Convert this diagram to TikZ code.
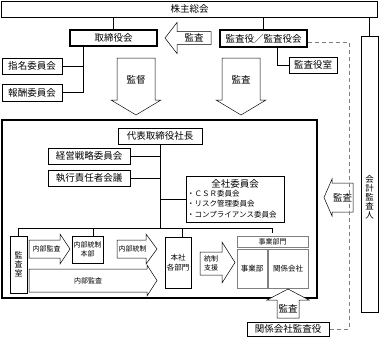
\documentclass[tikz,border=0pt]{standalone}
\usepackage{fontspec}
\setmainfont{Noto Sans CJK JP}
\newcommand{\fsA}{\fontsize{9.5}{11}\selectfont}
\newcommand{\fsB}{\fontsize{7.5}{10.5}\selectfont}
\newcommand{\fsC}{\fontsize{7}{9}\selectfont}
\begin{document}
\begin{tikzpicture}[x=1pt,y=-1pt,
  box/.style={draw, inner sep=0pt, align=center, line width=0.5pt},
  thickbox/.style={box, line width=1.3pt},
  graybox/.style={box, draw=black!50, line width=1pt},
  blockarrow/.style={draw, fill=white, line width=0.5pt, line join=miter},
  lbl/.style={inner sep=0pt, align=center},
  link/.style={line width=0.5pt}]
  \useasboundingbox (0,0) rectangle (379,340);
  % top level
  \node[box, minimum width=376pt, minimum height=16pt, font=\fsA] (agm) at (189.5,9) {株主総会};
  \node[thickbox, minimum width=87pt, minimum height=16pt, font=\fsA] (board) at (113.5,38) {取締役会};
  \node[thickbox, minimum width=87pt, minimum height=17pt, font=\fsA] (aud) at (263.5,38.5) {監査役／監査役会};
  \node[box, minimum width=60pt, minimum height=16pt, font=\fsA] (nom) at (32,66) {指名委員会};
  \node[box, minimum width=60pt, minimum height=17pt, font=\fsA] (rem) at (32,92.5) {報酬委員会};
  \node[box, minimum width=48pt, minimum height=16pt, font=\fsA] (audoff) at (313,65) {監査役室};
  \node[box, minimum width=17pt, minimum height=276pt] (acct) at (369.5,174) {};
  \node[lbl, font=\fontsize{8.5}{9}\selectfont] (acctlbl) at (369.5,197) {会\\計\\監\\査\\人};
  \draw[link] (agm.south -| board.north) -- (board.north);
  \draw[link] (agm.south -| aud.north) -- (aud.north);
  \draw[link] (agm.south -| acct.north) -- (acct.north);
  \coordinate (cj) at (83,92.5);
  \draw[link] (cj |- board.south) -- (cj) -- (rem.east);
  \draw[link] (cj |- nom.east) -- (nom.east);
  \coordinate (aj) at (277,65);
  \draw[link] (aj |- aud.south) -- (aj) -- (audoff.west);
  % block arrows between the levels
  \draw[blockarrow] (211,31.5) -- (177,31.5) -- (177,22.5) -- (165,38) -- (177,53.5) -- (177,44.5) -- (211,44.5) -- cycle;
  \node[lbl, font=\fsA] (audarrow) at (194,38) {監査};
  \draw[blockarrow] (117,58) -- (155,58) -- (155,100) -- (161,100) -- (136,115) -- (111,100) -- (117,100) -- cycle;
  \node[lbl, font=\fsA] (supv) at (136,80) {監督};
  \draw[blockarrow] (222,58) -- (260,58) -- (260,100) -- (266,100) -- (241,115) -- (216,100) -- (222,100) -- cycle;
  \node[lbl, font=\fsA] (audtwo) at (241,80) {監査};
  \draw[blockarrow] (353,183) -- (332,183) -- (332,179) -- (324,197.5) -- (332,216) -- (332,212) -- (353,212) -- cycle;
  \node[lbl, font=\fsA] (acctarrow) at (342.5,197.5) {監査};
  % executive side
  \node[box, line width=1.5pt, minimum width=315pt, minimum height=178pt] (exbox) at (159.5,209) {};
  \node[box, minimum width=84pt, minimum height=16pt, font=\fsA] (pres) at (160,136) {代表取締役社長};
  \node[box, minimum width=82pt, minimum height=16pt, font=\fsA] (strat) at (89,156) {経営戦略委員会};
  \node[box, minimum width=82pt, minimum height=16pt, font=\fsA] (exec) at (89,178) {執行責任者会議};
  \node[box, minimum width=98pt, minimum height=46pt] (zensha) at (235,199) {};
  \node[lbl, font=\fsA] (zenshattl) at (235,184) {全社委員会};
  \node[lbl, align=left, anchor=north west, font=\fsB] (zenshalist) at (187,190) {・ＣＳＲ委員会\\・リスク管理委員会\\・コンプライアンス委員会};
  \coordinate (bus) at (160,228);
  \draw[link] (pres.south) -- (pres.south |- bus);
  \draw[link] (strat.east) -- (strat.east -| pres.south);
  \draw[link] (exec.east) -- (exec.east -| pres.south);
  \draw[link] (zensha.west -| pres.south) -- (zensha.west);
  % lower row
  \node[box, minimum width=17pt, minimum height=57pt, font=\fontsize{8}{9}\selectfont] (kansa) at (18.5,264.5) {監\\査\\室};
  \node[box, minimum width=31pt, minimum height=27pt, font=\fsC] (naibu) at (87.5,249.5) {内部統制\\本部};
  \node[draw=black!55, double=white, double distance=1.6pt, line width=0.6pt, minimum width=153pt, minimum height=59pt] (group) at (235.5,262.5) {};
  \node[box, minimum width=26pt, minimum height=51pt, font=\fsB] (honsha) at (178,262.5) {本社\\各部門};
  \node[graybox, minimum width=71pt, minimum height=11pt, font=\fsC] (jmon) at (272.5,241.5) {事業部門};
  \node[graybox, minimum width=30pt, minimum height=39pt, font=\fsB] (jbu) at (252,268.5) {事業部};
  \node[graybox, minimum width=40pt, minimum height=39pt, font=\fsB] (kankei) at (288,268.5) {関係会社};
  \draw[link] (kansa.north) |- (jmon.north |- bus) -- (jmon.north |- group.north);
  \draw[link] ([xshift=5.5pt]naibu.north) -- ([xshift=5.5pt]naibu.north |- bus);
  \draw[link] ([xshift=4pt]honsha.north) -- ([xshift=4pt]honsha.north |- bus);
  \draw[blockarrow] (29,240) -- (60,240) -- (60,234) -- (70,249) -- (60,264) -- (60,258) -- (29,258) -- cycle;
  \node[lbl, font=\fsC] (audint) at (46.5,249) {内部監査};
  \draw[blockarrow] (117,240) -- (146,240) -- (146,234) -- (157,249) -- (146,264) -- (146,258) -- (117,258) -- cycle;
  \node[lbl, font=\fsC] (ctrl) at (132.5,249) {内部統制};
  \draw[blockarrow] (29,269) -- (147,269) -- (147,265) -- (157,280.5) -- (147,296) -- (147,292) -- (29,292) -- cycle;
  \node[lbl, font=\fsC] (audlong) at (88,280.5) {内部監査};
  \draw[blockarrow] (200,252) -- (222,252) -- (222,242) -- (235,262.5) -- (222,283) -- (222,275) -- (200,275) -- cycle;
  \node[lbl, font=\fsC] (supp) at (211,263) {統制\\支援};
  % group auditors
  \node[box, minimum width=82pt, minimum height=14pt, font=\fsA] (kaisha) at (288,329) {関係会社監査役};
  \draw[blockarrow] (277,318) -- (277,300) -- (267,300) -- (288,289) -- (309,300) -- (299,300) -- (299,318) -- cycle;
  \node[lbl, font=\fsA] (audup) at (288,308.5) {監査};
  \coordinate (dtop) at (349,42);
  \draw[dashed, draw=black!50, line width=0.8pt, dash pattern=on 4pt off 3pt] ([yshift=-3.5pt]aud.east) -- (dtop) -- (dtop |- kaisha.east) -- (kaisha.east);
\end{tikzpicture}
\end{document}
